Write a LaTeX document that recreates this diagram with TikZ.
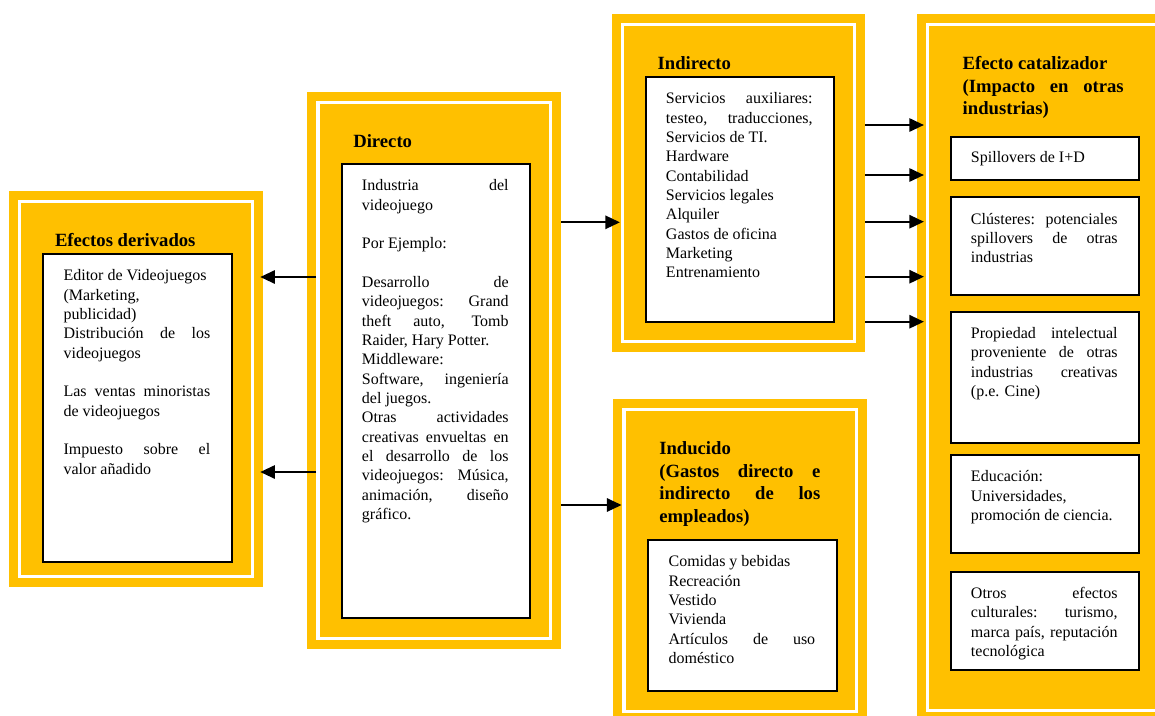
\documentclass[tikz,border=0pt]{standalone}
\usepackage{fontspec}
\setmainfont{Liberation Serif}
\usetikzlibrary{arrows.meta,positioning,calc,fit}
\definecolor{gold}{HTML}{FFC000}
\tolerance=10000
\hbadness=10000
\hyphenpenalty=10000

\begin{document}
\begin{tikzpicture}[
        x=0.75pt, y=-0.75pt,
        >={Triangle[length=11pt,width=10pt]},
        % Block styles
        frame/.style={
            rectangle,
            fill=gold,
            inner sep=0pt
        },
        band/.style={draw=white, line width=2.6pt},
        itembox/.style={
            rectangle,
            draw=black,
            line width=1.5pt,
            fill=white,
            inner sep=0pt
        },
        body/.style={
            anchor=north west,
            inner sep=0pt,
            text width=110pt,
            align=justify,
            font=\fontsize{12}{14.5}\selectfont,
            execute at begin node=\strut
        },
        head/.style={
            anchor=north west,
            inner sep=0pt,
            text width=120.75pt,
            align=justify,
            font=\fontsize{14}{16.9}\selectfont\bfseries,
            execute at begin node=\strut
        },
        arrow/.style={->, line width=1.5pt}
    ]
    \useasboundingbox (0,0) rectangle (1155,715);

    % Outer frames
    \node[frame, fit={(9,190.7) (263,587)}] (der) {};
    \node[frame, fit={(307.3,91.7) (561,649)}] (dir) {};
    \node[frame, fit={(611.7,14) (865,352)}] (ind) {};
    \node[frame, fit={(613.3,399) (867,722)}] (idc) {};
    \node[frame, fit={(916.7,14) (1168,721)}] (cat) {};
    \foreach \f in {der,dir,ind,idc,cat}
        \draw[band] ([shift={(11,11)}]\f.north west) rectangle ([shift={(-11,-11)}]\f.south east);

    % Efectos derivados
    \node[head] (derhead) at ([shift={(46,40)}]der.north west) {Efectos derivados};
    \node[itembox, fit={(43.3,254) (231.7,562)}] (derbox) {};
    \node[body] (dertext) at ([shift={(21,14)}]derbox.north west) {Editor de Videojuegos\\ (Marketing,\\ publicidad)\\ Distribución de los\linebreak videojuegos\\[14.5pt] Las ventas minoristas\linebreak de videojuegos\\[14.5pt] Impuesto sobre el\linebreak valor añadido};

    % Directo
    \node[head] (dirhead) at ([shift={(46,40)}]dir.north west) {Directo};
    \node[itembox, fit={(341.7,164) (530,618)}] (dirbox) {};
    \node[body] (dirtext) at ([shift={(21,14)}]dirbox.north west) {Industria del\linebreak videojuego\\[14.5pt] Por Ejemplo:\\[14.5pt] Desarrollo de\linebreak videojuegos: Grand\linebreak theft auto, Tomb\linebreak Raider, Hary Potter.\\ Middleware:\\ Software, ingeniería\linebreak del juegos.\\ Otras actividades\linebreak creativas envueltas en\linebreak el desarrollo de los\linebreak videojuegos: Música,\linebreak animación, diseño\linebreak gráfico.};

    % Indirecto
    \node[head] (indhead) at ([shift={(46,40)}]ind.north west) {Indirecto};
    \node[itembox, fit={(645.7,77) (834,321.7)}] (indbox) {};
    \node[body] (indtext) at ([shift={(21,14)}]indbox.north west) {Servicios auxiliares:\linebreak testeo, traducciones,\linebreak Servicios de TI.\\ Hardware\\ Contabilidad\\ Servicios legales\\ Alquiler\\ Gastos de oficina\\ Marketing\\ Entrenamiento};

    % Inducido
    \node[head] (idchead) at ([shift={(46,40)}]idc.north west) {Inducido\\ (Gastos directo e\linebreak indirecto de los\linebreak empleados)};
    \node[itembox, fit={(648.3,540) (837.3,691)}] (idcbox) {};
    \node[body] (idctext) at ([shift={(21,14)}]idcbox.north west) {Comidas y bebidas\\ Recreación\\ Vestido\\ Vivienda\\ Artículos de uso\linebreak doméstico};

    % Efecto catalizador
    \node[head] (cathead) at ([shift={(46,40)}]cat.north west) {Efecto catalizador\\ (Impacto en otras\linebreak industrias)};
    \node[itembox, fit={(950.7,136.7) (1139.3,180)}] (spill) {};
    \node[itembox, fit={(950.7,197.3) (1139.3,295)}] (clus) {};
    \node[itembox, fit={(950.7,311.7) (1139.3,442.7)}] (prop) {};
    \node[itembox, fit={(950.7,455) (1139.3,552.7)}] (edu) {};
    \node[itembox, fit={(950.7,571.7) (1139.3,670)}] (cult) {};
    \node[body] (spilltext) at ([shift={(21,13)}]spill.north west) {Spillovers de I+D};
    \node[body] (clustext) at ([shift={(21,14)}]clus.north west) {Clústeres: potenciales\linebreak spillovers de otras\linebreak industrias};
    \node[body] (proptext) at ([shift={(21,14)}]prop.north west) {Propiedad intelectual\linebreak proveniente de otras\linebreak industrias creativas\linebreak (p.e. Cine)};
    \node[body] (edutext) at ([shift={(21,14)}]edu.north west) {Educación:\\ Universidades,\\ promoción de ciencia.};
    \node[body] (culttext) at ([shift={(21,14)}]cult.north west) {Otros efectos\linebreak culturales: turismo,\linebreak marca país, reputación\linebreak tecnológica};

    % Connections
    \draw[arrow] ($(dir.west |- 0,277)+(9,0)$) -- ($(der.east |- 0,277)+(-3,0)$);
    \draw[arrow] ($(dir.west |- 0,472)+(9,0)$) -- ($(der.east |- 0,472)+(-3,0)$);
    \draw[arrow] (dir.east |- 0,222.3) -- ($(ind.west |- 0,222.3)+(8.5,0)$);
    \draw[arrow] (dir.east |- 0,505) -- ($(idc.west |- 0,505)+(8.5,0)$);
    \foreach \y in {125,175,221.7,276.7,321.7}
        \draw[arrow] (ind.east |- 0,\y) -- ($(cat.west |- 0,\y)+(7.5,0)$);

\end{tikzpicture}
\end{document}
